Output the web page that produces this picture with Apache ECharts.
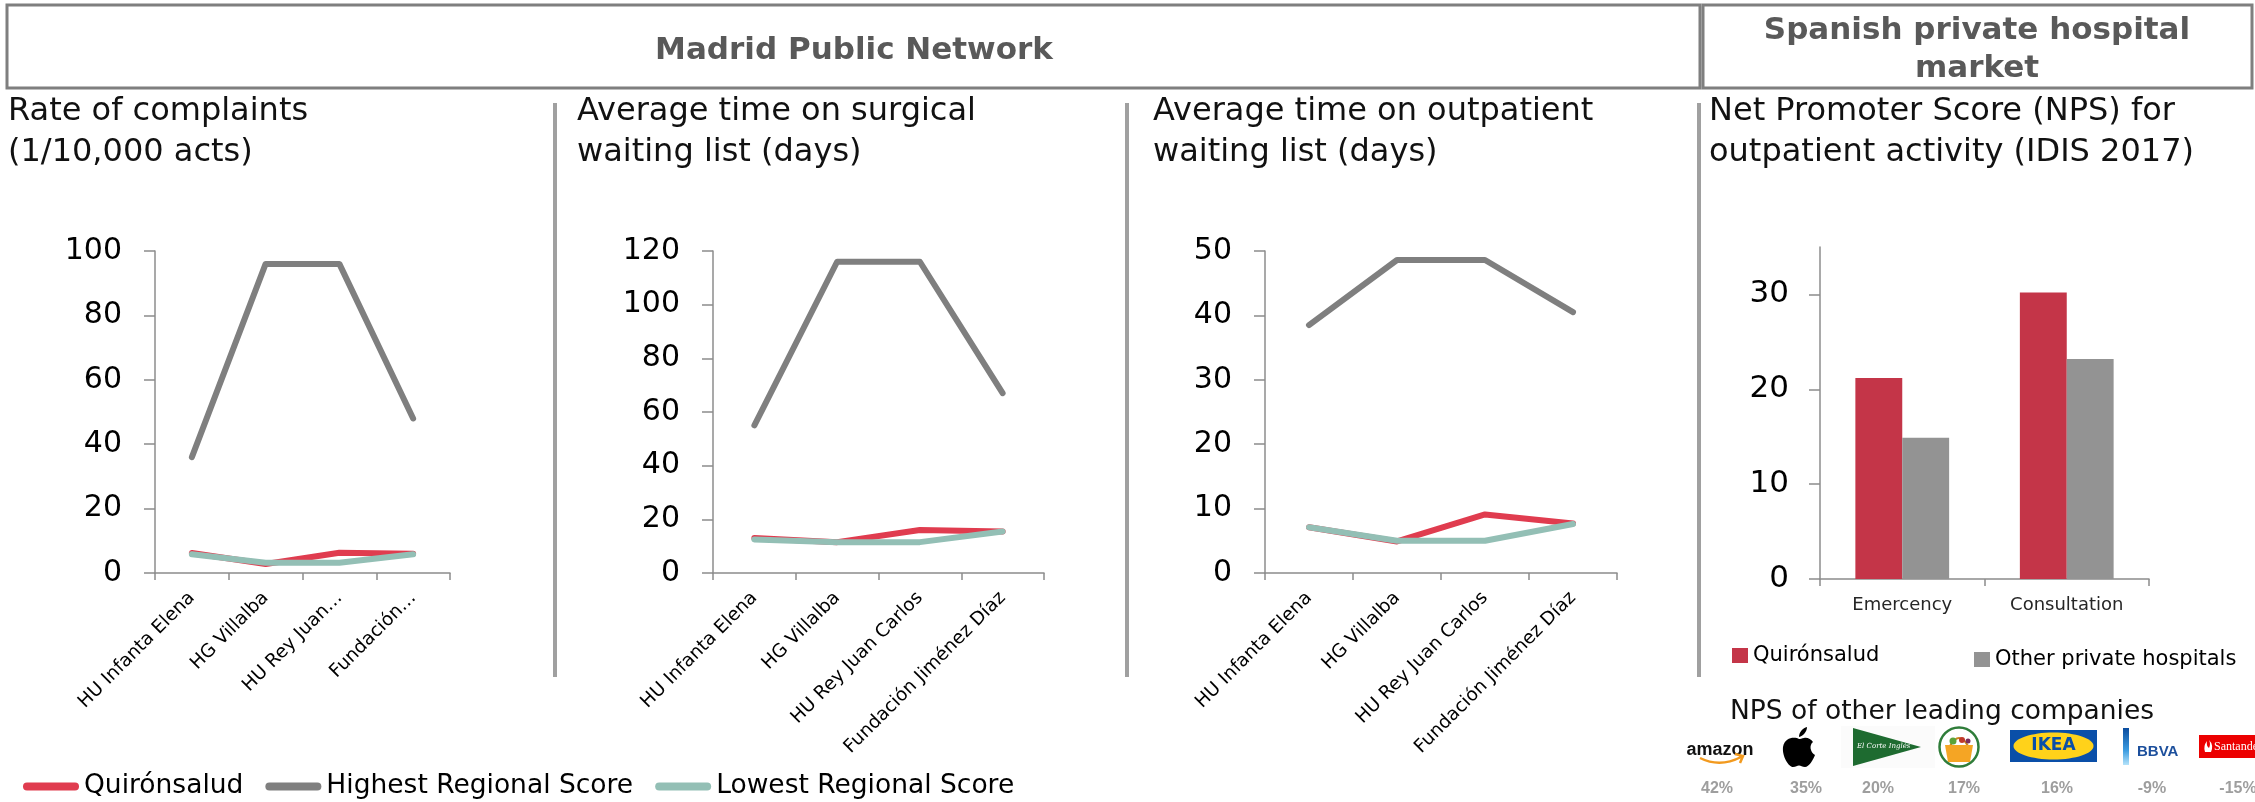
<!DOCTYPE html>
<html>
<head>
<meta charset="utf-8">
<script src="https://cdn.jsdelivr.net/npm/echarts@6/dist/echarts.min.js"></script>
<style>
  html, body { margin: 0; padding: 0; background: #fff; }
  #chart { width: 2255px; height: 802px; }
</style>
</head>
<body>
<div id="chart"></div>
<script>
// categories
const hospitals = ['HU Infanta Elena', 'HG Villalba', 'HU Rey Juan Carlos', 'Fundación Jiménez Díaz'];
const hospitalsShort = ['HU Infanta Elena', 'HG Villalba', 'HU Rey Juan…', 'Fundación…'];
const seriesNames = ['Quirónsalud', 'Highest Regional Score', 'Lowest Regional Score'];

// rate of complaints (1/10,000 acts)
const complaintsQuiron = [6.2, 2.8, 6.3, 6.0];
const complaintsHighest = [36, 96, 96, 48];
const complaintsLowest = [5.8, 3.2, 3.2, 5.8];

// surgical waiting list (days)
const surgicalQuiron = [13, 11.5, 16, 15.5];
const surgicalHighest = [55, 116, 116, 67];
const surgicalLowest = [12.5, 11.5, 11.5, 15.5];

// outpatient waiting list (days)
const outpatientQuiron = [7.1, 4.9, 9.1, 7.7];
const outpatientHighest = [38.5, 48.6, 48.6, 40.5];
const outpatientLowest = [7.1, 5.0, 5.0, 7.6];

// NPS outpatient activity
const npsCategories = ['Emercency', 'Consultation'];
const npsQuiron = [21.2, 30.2];
const npsOther = [14.9, 23.2];
const npsTicks = [0, 10, 20, 30];

// NPS of other leading companies
const companies = ['amazon', 'Apple', 'El Corte Inglés', 'Supermercado', 'IKEA', 'BBVA', 'Santander'];
const companyNps = [42, 35, 20, 17, 16, -9, -15];

const FONT = 'DejaVu Sans';
const RED = '#E03C4F';
const GRAY = '#7F7F7F';
const TEAL = '#93BFB5';
const BAR_RED = '#C43548';
const BAR_GRAY = '#939393';
const AXIS = '#8C8C8C';

// custom shapes for the logo row
function regPath(name, d) {
  echarts.graphic.registerShape(name, echarts.graphic.extendPath(d, {}));
}
regPath('appleLogo', 'M17,12 C14,10 3,9 1,20 C0,30 7,40 11,40 C14,40 15,38.5 17,38.5 C19,38.5 20,40 23,40 C27,40 31,33 33,28 C28,25 27,18 31,15 C29,12 25,10 22,11 C20,11.5 18,12 17,12 Z M17,10 C17,5 21,1 25,0 C25,5 21,9 17,10 Z');
regPath('amazonSmile', 'M0,2 Q20,12 41,1 M35,-2 L43,0 L40,7');
regPath('basketHandle', 'M0,16 Q9,0 18,16');
regPath('santanderFlame', 'M2,12 Q0,6 4,1 Q3,6 6,8 Q8,4 6,0 Q11,5 8,12 Z');

const chart = echarts.init(document.getElementById('chart'));

const lineCharts = [
  { cats: hospitalsShort, max: 100, interval: 20, data: [complaintsQuiron, complaintsHighest, complaintsLowest] },
  { cats: hospitals, max: 120, interval: 20, data: [surgicalQuiron, surgicalHighest, surgicalLowest] },
  { cats: hospitals, max: 50, interval: 10, data: [outpatientQuiron, outpatientHighest, outpatientLowest] }
];

const grids = [
  { left: 155, top: 251, width: 295, height: 322 },
  { left: 713, top: 251, width: 331, height: 322 },
  { left: 1265, top: 251, width: 352, height: 322 },
  { left: 1820, top: 247, width: 329, height: 332 }
];

const xAxes = [];
const yAxes = [];
const series = [];

lineCharts.forEach(function (c, i) {
  xAxes.push({
    type: 'category', gridIndex: i, data: c.cats,
    axisLine: { lineStyle: { color: AXIS, width: 1.5 } },
    axisTick: { show: true, length: 7, lineStyle: { color: AXIS, width: 1.5 } },
    axisLabel: { rotate: 45, interval: 0, fontSize: 18.5, fontFamily: FONT, color: '#000', margin: 22 }
  });
  yAxes.push({
    type: 'value', gridIndex: i, min: 0, max: c.max, interval: c.interval,
    axisLine: { show: true, lineStyle: { color: AXIS, width: 1.5 } },
    axisTick: { show: true, length: 11, lineStyle: { color: AXIS, width: 1.5 } },
    splitLine: { show: false },
    axisLabel: { fontSize: 30, fontFamily: FONT, color: '#000', margin: 33 }
  });
  const colors = [RED, GRAY, TEAL];
  c.data.forEach(function (d, k) {
    series.push({
      type: 'line', name: seriesNames[k], xAxisIndex: i, yAxisIndex: i,
      data: d, symbol: 'none', silent: true,
      itemStyle: { color: colors[k] },
      lineStyle: { color: colors[k], width: 6, cap: 'round', join: 'round' }
    });
  });
});

// bar chart
xAxes.push({
  type: 'category', gridIndex: 3, data: npsCategories,
  axisLine: { lineStyle: { color: AXIS, width: 1.5 } },
  axisTick: { show: true, length: 7, lineStyle: { color: AXIS, width: 1.5 } },
  axisLabel: { fontSize: 18, fontFamily: FONT, color: '#262626', margin: 17 }
});
yAxes.push({
  type: 'value', gridIndex: 3, min: 0, max: 35, interval: 10,
  axisLine: { show: true, lineStyle: { color: AXIS, width: 1.5 } },
  axisTick: { show: true, length: 11, customValues: npsTicks, lineStyle: { color: AXIS, width: 1.5 } },
  splitLine: { show: false },
  axisLabel: { fontSize: 31, fontFamily: FONT, color: '#000', margin: 31, customValues: npsTicks }
});
series.push({
  type: 'bar', name: 'Quirónsalud', xAxisIndex: 3, yAxisIndex: 3, data: npsQuiron,
  barGap: '0%', barCategoryGap: '43%', itemStyle: { color: BAR_RED }, silent: true
});
series.push({
  type: 'bar', name: 'Other private hospitals', xAxisIndex: 3, yAxisIndex: 3, data: npsOther,
  barGap: '0%', barCategoryGap: '43%', itemStyle: { color: BAR_GRAY }, silent: true
});

// titles and frame
const titleText = { fontSize: 32, fontFamily: FONT, fill: '#111', lineHeight: 41, align: 'left', verticalAlign: 'top' };
const headText = { fontSize: 31, fontFamily: FONT, fontWeight: 'bold', fill: '#595959', lineHeight: 38, align: 'center', verticalAlign: 'middle' };
const titles = [
  [8, 'Rate of complaints\n(1/10,000 acts)'],
  [577, 'Average time on surgical\nwaiting list (days)'],
  [1153, 'Average time on outpatient\nwaiting list (days)'],
  [1709, 'Net Promoter Score (NPS) for\noutpatient activity (IDIS 2017)']
];
const graphics = [
  { type: 'rect', shape: { x: 7, y: 5, width: 1693, height: 83 }, style: { fill: 'none', stroke: '#7F7F7F', lineWidth: 3 } },
  { type: 'rect', shape: { x: 1703, y: 5, width: 549, height: 83 }, style: { fill: 'none', stroke: '#7F7F7F', lineWidth: 3 } },
  { type: 'text', x: 854, y: 51, style: Object.assign({ text: 'Madrid Public Network' }, headText) },
  { type: 'text', x: 1977, y: 50, style: Object.assign({ text: 'Spanish private hospital\nmarket' }, headText) }
];
titles.forEach(function (t) {
  graphics.push({ type: 'text', x: t[0], y: 91, style: Object.assign({ text: t[1] }, titleText) });
});
[555, 1127, 1699].forEach(function (x) {
  graphics.push({ type: 'line', shape: { x1: x, y1: 103, x2: x, y2: 677 }, style: { stroke: '#A0A0A0', lineWidth: 4 } });
});

// NPS of other leading companies
graphics.push({ type: 'text', x: 1730, y: 712, style: { text: 'NPS of other leading companies', fontSize: 26.5, fontFamily: FONT, fill: '#111', align: 'left', verticalAlign: 'middle' } });
const npsLabelX = [1717, 1806, 1878, 1964, 2057, 2152, 2238];
companyNps.forEach(function (v, i) {
  graphics.push({ type: 'text', x: npsLabelX[i], y: 789, style: { text: v + '%', fontSize: 16, fontWeight: 'bold', fontFamily: 'Liberation Sans', fill: '#9E9E9E', align: 'center', verticalAlign: 'middle' } });
});

// company logos (drawn roughly)
graphics.push(
  { type: 'text', x: 1720, y: 750, style: { text: companies[0], fontSize: 18, fontWeight: 'bold', fontFamily: 'Liberation Sans', fill: '#111', align: 'center', verticalAlign: 'middle' } },
  { type: 'amazonSmile', x: 1700, y: 756, shape: {}, style: { fill: 'none', stroke: '#F29A1F', lineWidth: 2.5 } },
  { type: 'appleLogo', x: 1782, y: 727, shape: {}, style: { fill: '#000' } },
  { type: 'rect', shape: { x: 1841, y: 726, width: 94, height: 42 }, style: { fill: '#FBFBFB' } },
  { type: 'polygon', shape: { points: [[1853, 728], [1921, 747], [1853, 766]] }, style: { fill: '#1E6B30' } },
  { type: 'text', x: 1857, y: 746, style: { text: companies[2], fontSize: 7, fontStyle: 'italic', fontFamily: 'DejaVu Serif', fill: '#fff', align: 'left', verticalAlign: 'middle' } },
  { type: 'circle', shape: { cx: 1959, cy: 747, r: 19.5 }, style: { fill: '#fff', stroke: '#2F7D3A', lineWidth: 2.5 } },
  { type: 'basketHandle', x: 1950, y: 730, shape: {}, style: { fill: 'none', stroke: '#C8871E', lineWidth: 2 } },
  { type: 'circle', shape: { cx: 1953, cy: 741, r: 3.5 }, style: { fill: '#5BA33A' } },
  { type: 'circle', shape: { cx: 1962, cy: 740, r: 3 }, style: { fill: '#C0392B' } },
  { type: 'circle', shape: { cx: 1968, cy: 741, r: 2.5 }, style: { fill: '#7B2D5B' } },
  { type: 'polygon', shape: { points: [[1945, 745], [1973, 745], [1970, 762], [1948, 762]] }, style: { fill: '#F5A524' } },
  { type: 'rect', shape: { x: 2010, y: 730, width: 87, height: 32 }, style: { fill: '#0A4FA8' } },
  { type: 'ellipse', shape: { cx: 2053.5, cy: 746, rx: 40, ry: 13.5 }, style: { fill: '#FFD21A' } },
  { type: 'text', x: 2053.5, y: 746, style: { text: companies[4], fontSize: 17, fontWeight: 'bold', fontFamily: FONT, fill: '#0A4FA8', align: 'center', verticalAlign: 'middle' } },
  { type: 'rect', shape: { x: 2123, y: 728, width: 6, height: 37 }, style: { fill: new echarts.graphic.LinearGradient(0, 0, 0, 1, [{ offset: 0, color: '#0A4C9E' }, { offset: 0.6, color: '#3A9BE0' }, { offset: 1, color: '#B5E3FA' }]) } },
  { type: 'text', x: 2137, y: 752, style: { text: companies[5], fontSize: 15, fontWeight: 'bold', fontFamily: 'Liberation Sans', fill: '#1C4F9C', align: 'left', verticalAlign: 'middle' } },
  { type: 'rect', shape: { x: 2199, y: 735, width: 60, height: 23 }, style: { fill: '#EC0000' } },
  { type: 'santanderFlame', x: 2203, y: 740, shape: {}, style: { fill: '#fff' } },
  { type: 'text', x: 2214, y: 747, style: { text: companies[6], fontSize: 12, fontFamily: 'Liberation Serif', fill: '#fff', align: 'left', verticalAlign: 'middle' } }
);

const lineIcon = 'path://M4,0H52A4,4,0,0,1,52,8H4A4,4,0,0,1,4,0Z';

chart.setOption({
  animation: false,
  backgroundColor: '#fff',
  grid: grids,
  xAxis: xAxes,
  yAxis: yAxes,
  series: series,
  legend: [
    {
      data: seriesNames, left: 23, top: 773, padding: 0, icon: lineIcon,
      itemWidth: 56, itemHeight: 8, itemGap: 22, selectedMode: false,
      textStyle: { fontSize: 26.5, fontFamily: FONT, color: '#000' }
    },
    {
      data: [{ name: 'Quirónsalud', icon: 'rect', itemStyle: { color: BAR_RED, borderWidth: 0 } }],
      left: 1732, top: 645, padding: 0, itemWidth: 16, itemHeight: 15, selectedMode: false,
      textStyle: { fontSize: 21, fontFamily: FONT, color: '#000' }
    },
    {
      data: [{ name: 'Other private hospitals', icon: 'rect', itemStyle: { color: BAR_GRAY, borderWidth: 0 } }],
      left: 1974, top: 649, padding: 0, itemWidth: 16, itemHeight: 15, selectedMode: false,
      textStyle: { fontSize: 21, fontFamily: FONT, color: '#000' }
    }
  ],
  graphic: graphics
});
</script>
</body>
</html>
